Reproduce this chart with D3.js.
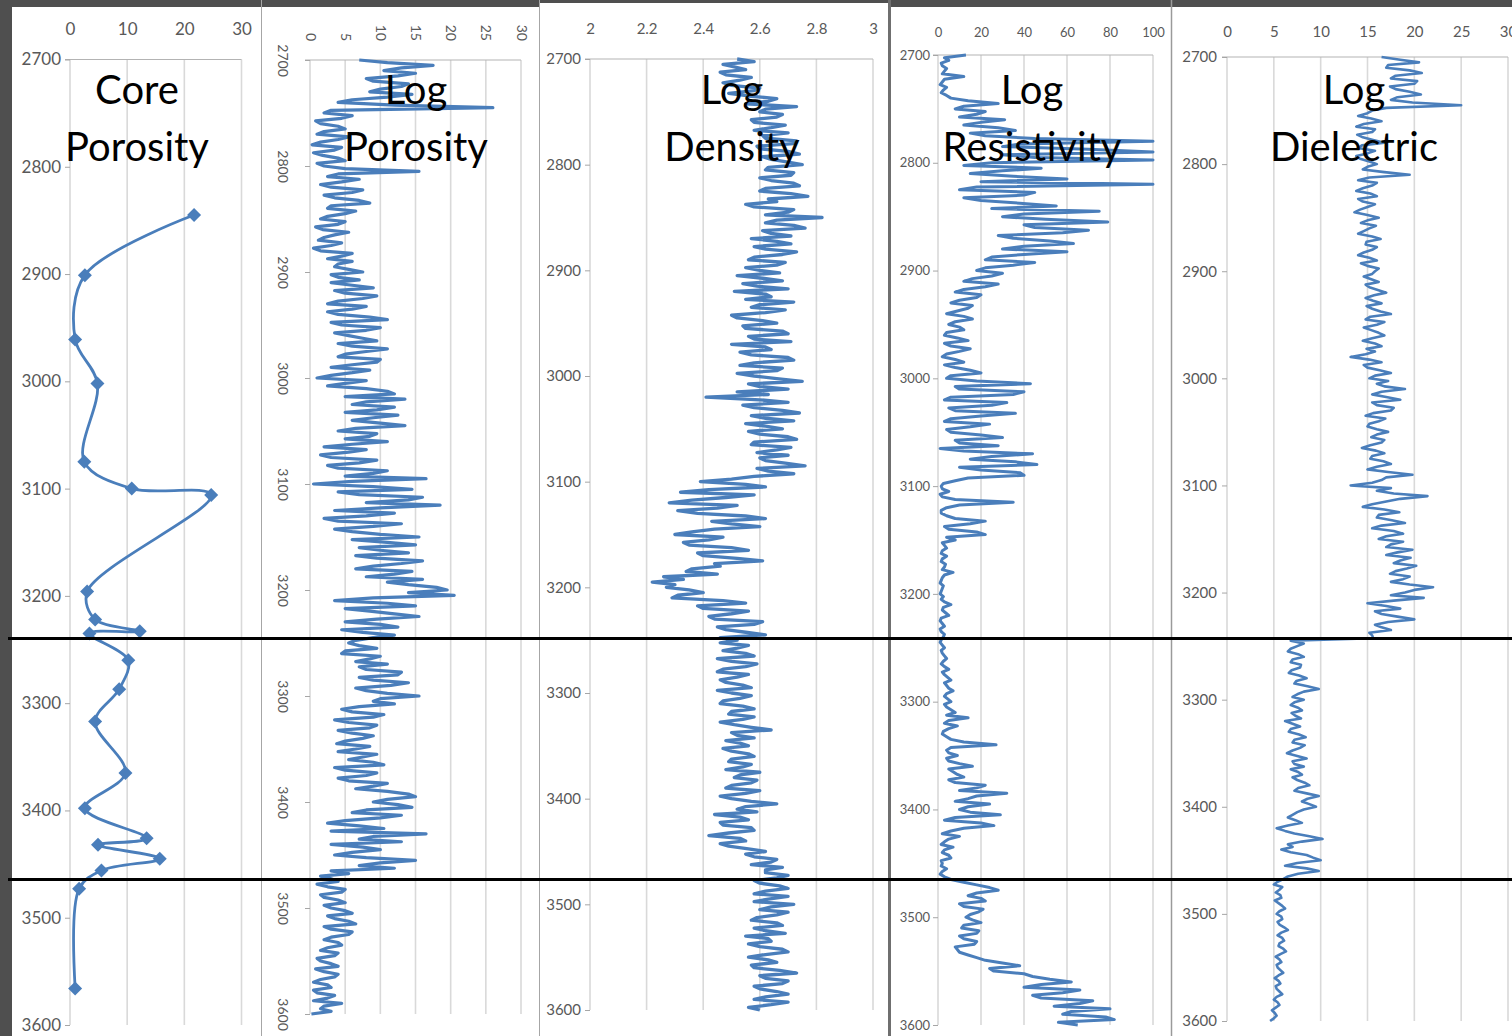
<!DOCTYPE html>
<html><head><meta charset="utf-8">
<script src="https://cdn.jsdelivr.net/npm/d3@7"></script>
<style>
html,body{margin:0;padding:0;background:#4f4f4f;overflow:hidden}
svg{display:block}
text{font-family:Lato,"Open Sans",sans-serif}
</style></head><body>
<svg id="c" width="1512" height="1036"></svg>
<script>
// ---------- DATA ----------
const depthTicks = [2700, 2800, 2900, 3000, 3100, 3200, 3300, 3400, 3500, 3600];
const coreTicks = [0, 10, 20, 30];
const porTicks = [0, 5, 10, 15, 20, 25, 30];
const densTicks = [2, 2.2, 2.4, 2.6, 2.8, 3];
const resTicks = [0, 20, 40, 60, 80, 100];
const dielTicks = [0, 5, 10, 15, 20, 25, 30];

const coreDepth = [2845, 2901, 2961, 3002, 3075, 3100, 3106, 3196, 3222, 3233, 3235, 3260, 3287, 3317, 3365, 3398, 3426, 3432, 3445, 3456, 3473, 3566];
const corePorosity = [21.7, 2.6, 0.9, 4.8, 2.5, 10.8, 24.7, 3.0, 4.4, 12.2, 3.4, 10.2, 8.6, 4.4, 9.7, 2.6, 13.4, 4.9, 15.7, 5.5, 1.6, 0.9];

// log samples: every 5 ft from 2700 to 3600, plus readings at the half-way depths
const logDepth = d3.range(2700, 3601, 5);
const logDepthMid = d3.range(2702.5, 3600, 5);

const logPorosity = [
 7.0, 17.5, 10.5, 12.5, 9, 13, 8.5, 11, 4, 26,
 2, 4.5, 1.5, 5, 1, 4, 0.3, 3.5, 1.8, 5,
 2, 15.5, 2.5, 4.5, 3, 6, 3.5, 8.5, 2.5, 5,
 1.5, 4, 1.8, 3.5, 1.2, 3, 1.5, 4.5, 6, 3.5,
 7.5, 4, 3, 9, 5, 7.5, 2.5, 6, 4, 11,
 4.5, 8, 5.5, 9.5, 6, 8, 4, 9.5, 3, 6,
 1, 5, 8, 12, 13.5, 6, 9.5, 12.5, 6, 13.5,
 4, 8.5, 11, 2, 5.5, 3, 7, 4, 9, 16.5,
 0.5, 14.5, 7, 14, 18.5, 3.5, 8, 4, 9, 6,
 15.5, 11, 7, 14, 9.5, 13, 6.5, 12, 16, 14,
 19.5, 20.5, 3.5, 15, 8.5, 15.5, 5, 12.5, 7.5, 9,
 5.5, 9.5, 4.5, 8.5, 11, 8, 12.5, 9, 11.5, 8,
 15.5, 9, 7, 6, 9, 5.5, 8.5, 6, 7.5, 3.8,
 6.5, 9.5, 5.5, 10.5, 5, 8, 5.5, 9, 11, 15,
 9, 14.5, 6, 10, 2.5, 10.5, 16.5, 7, 3, 10,
 3.5, 15, 7, 3, 1.5, 4, 2.5, 4.5, 2, 5,
 3, 6, 3.5, 6.5, 3, 5.5, 2, 4.5, 1.5, 3.5,
 1.5, 4, 2, 3.5, 0.5, 3, 1, 2.5, 4.5, 1.5,
 0.2
];
const logPorosityMid = [
 11, 13, 15, 8, 14, 10, 14.5, 6, 12, 3,
 6, 0.8, 4, 2, 5.5, 1.5, 4.5, 0.5, 4, 1,
 5, 4, 7, 1.5, 7.5, 2, 7, 3, 6.5, 2.5,
 5, 0.8, 5.5, 2, 4.5, 0.5, 6, 2.5, 4, 5.5,
 3, 7, 6, 3.5, 9.5, 4, 8, 2.5, 8.5, 3,
 10, 3.5, 7.5, 4, 11, 5, 10, 6, 8.5, 3,
 8, 2.5, 11, 5, 8, 12, 5, 9, 10, 6.5,
 9.5, 5, 6, 8, 1.5, 9.5, 2.5, 11, 5, 6,
 9, 4, 16, 8, 10, 12, 2, 13, 3.5, 10,
 6, 15, 10, 6.5, 16, 9, 14.5, 8, 11, 18,
 14, 9, 11, 5, 12, 9.5, 10, 4.5, 12, 6.5,
 7, 5, 10, 6.5, 7, 13, 7, 14, 6.5, 11,
 10, 12, 4.5, 10.5, 3.5, 9.5, 4, 9, 5, 8.5,
 4, 7.5, 9, 3.5, 9.5, 4, 11, 6.5, 14, 11,
 12.5, 8, 13, 5, 7, 3, 9, 13, 7.5, 6,
 8, 10, 12, 5.5, 3, 1, 5, 1.5, 4, 2,
 5, 2.5, 5.5, 2, 6, 3, 4, 2.5, 4, 1,
 3, 0.8, 4, 1.5, 2.5, 0.5, 3.5, 0.5, 2, 3
];

const logDensity = [
 2.52, 2.47, 2.55, 2.48, 2.53, 2.50, 2.58, 2.56, 2.63, 2.73,
 2.60, 2.66, 2.58, 2.64, 2.70, 2.62, 2.72, 2.60, 2.74, 2.64,
 2.75, 2.62, 2.71, 2.64, 2.74, 2.60, 2.77, 2.66, 2.58, 2.70,
 2.82, 2.62, 2.76, 2.64, 2.57, 2.71, 2.62, 2.68, 2.56, 2.66,
 2.60, 2.52, 2.68, 2.59, 2.51, 2.64, 2.72, 2.57, 2.62, 2.52,
 2.66, 2.55, 2.70, 2.58, 2.50, 2.64, 2.57, 2.72, 2.53, 2.66,
 2.58, 2.75, 2.60, 2.52, 2.41, 2.70, 2.58, 2.74, 2.62, 2.55,
 2.68, 2.60, 2.73, 2.57, 2.66, 2.70, 2.62, 2.76, 2.63, 2.58,
 2.39, 2.62, 2.32, 2.48, 2.28, 2.45, 2.38, 2.62, 2.50, 2.44,
 2.30, 2.42, 2.35, 2.56, 2.40, 2.61, 2.46, 2.34, 2.26, 2.22,
 2.27, 2.40, 2.29, 2.55, 2.40, 2.50, 2.44, 2.58, 2.48, 2.62,
 2.52, 2.56, 2.47, 2.58, 2.50, 2.55, 2.45, 2.52, 2.48, 2.57,
 2.50, 2.53, 2.46, 2.58, 2.49, 2.54, 2.51, 2.64, 2.52, 2.48,
 2.56, 2.50, 2.58, 2.49, 2.54, 2.60, 2.51, 2.57, 2.48, 2.55,
 2.50, 2.66, 2.52, 2.44, 2.56, 2.47, 2.58, 2.42, 2.55, 2.49,
 2.62, 2.58, 2.64, 2.68, 2.62, 2.66, 2.60, 2.70, 2.58, 2.63,
 2.72, 2.60, 2.66, 2.57, 2.68, 2.62, 2.55, 2.64, 2.60, 2.70,
 2.56, 2.66, 2.58, 2.73, 2.62, 2.68, 2.60, 2.70, 2.58, 2.64,
 2.60
];
const logDensityMid = [
 2.58, 2.51, 2.46, 2.57, 2.47, 2.60, 2.49, 2.66, 2.55, 2.62,
 2.68, 2.57, 2.69, 2.58, 2.61, 2.73, 2.59, 2.70, 2.61, 2.70,
 2.63, 2.72, 2.60, 2.72, 2.62, 2.71, 2.63, 2.55, 2.72, 2.62,
 2.66, 2.72, 2.61, 2.71, 2.66, 2.58, 2.73, 2.58, 2.69, 2.55,
 2.67, 2.61, 2.54, 2.70, 2.62, 2.55, 2.60, 2.69, 2.50, 2.61,
 2.54, 2.68, 2.56, 2.71, 2.62, 2.53, 2.70, 2.58, 2.68, 2.52,
 2.66, 2.56, 2.70, 2.63, 2.60, 2.54, 2.68, 2.57, 2.72, 2.62,
 2.56, 2.70, 2.58, 2.71, 2.59, 2.60, 2.69, 2.59, 2.72, 2.50,
 2.55, 2.42, 2.58, 2.36, 2.52, 2.31, 2.55, 2.43, 2.60, 2.36,
 2.47, 2.33, 2.50, 2.38, 2.52, 2.44, 2.36, 2.45, 2.33, 2.30,
 2.35, 2.31, 2.47, 2.38, 2.56, 2.42, 2.61, 2.45, 2.55, 2.46,
 2.46, 2.52, 2.55, 2.45, 2.59, 2.47, 2.56, 2.46, 2.54, 2.45,
 2.57, 2.47, 2.54, 2.50, 2.58, 2.46, 2.57, 2.50, 2.58, 2.53,
 2.47, 2.56, 2.50, 2.57, 2.48, 2.53, 2.59, 2.50, 2.60, 2.46,
 2.57, 2.55, 2.59, 2.53, 2.46, 2.57, 2.49, 2.53, 2.46, 2.56,
 2.55, 2.66, 2.57, 2.62, 2.70, 2.58, 2.67, 2.62, 2.70, 2.58,
 2.64, 2.70, 2.59, 2.66, 2.58, 2.69, 2.63, 2.56, 2.68, 2.62,
 2.63, 2.57, 2.67, 2.60, 2.70, 2.58, 2.66, 2.62, 2.70, 2.56
];

const logResistivity = [
 13, 5, 2, 3, 12, 2, 4, 1.5, 6, 28,
 8, 18, 31, 12, 36, 22, 100, 30, 100, 45,
 25, 48, 15, 60, 100, 10, 40, 20, 55, 75,
 30, 79, 45, 58, 35, 63, 30, 40, 22, 35,
 18, 25, 12, 22, 8, 18, 6, 14, 4, 16,
 5, 12, 3, 14, 6, 10, 2, 12, 8, 20,
 4, 43, 10, 35, 3, 25, 8, 20, 3, 15,
 6, 30, 10, 1, 44, 15, 46, 20, 40, 8,
 1.5, 5, 2, 35, 4, 1.5, 8, 15, 5, 22,
 8, 3, 2, 4, 1.5, 3, 7, 2, 1, 2,
 1, 1.5, 6, 2, 5, 1, 3, 1.5, 2.5, 1,
 3, 2, 4, 1.5, 5, 3, 6, 4, 7, 3,
 6, 4, 8, 14, 3, 5, 2, 6, 27, 4,
 9, 5, 16, 7, 12, 8, 18, 32, 14, 24,
 10, 29, 3, 26, 6, 10, 3, 7, 2, 6,
 2, 4, 1, 6, 18, 28, 14, 22, 12, 19,
 13, 20, 11, 18, 12, 17, 9, 14, 22, 38,
 26, 44, 62, 40, 58, 48, 66, 80, 58, 82,
 65
];
const logResistivityMid = [
 3, 1.5, 4, 2, 3, 1, 2.5, 4, 14, 12,
 22, 10, 20, 28, 15, 45, 38, 70, 30, 100,
 12, 30, 35, 20, 18, 45, 12, 38, 25, 40,
 50, 40, 70, 28, 52, 40, 60, 25, 45, 22,
 30, 16, 28, 12, 20, 10, 16, 9, 12, 8,
 10, 4, 9, 3, 15, 4, 8, 3, 15, 6,
 18, 8, 40, 6, 32, 5, 36, 6, 24, 4,
 20, 8, 28, 12, 25, 36, 10, 38, 14, 2.5,
 2, 1, 8, 10, 1.5, 4, 22, 3, 18, 4,
 2, 4, 1.5, 2, 3.5, 2, 3, 1.5, 2.5, 1.5,
 2.5, 3, 2.5, 3.5, 1.5, 2, 1, 3, 1.5, 2,
 1.5, 3, 2.5, 3, 2, 4.5, 3, 5, 4, 4.5,
 3, 6, 4, 5, 9, 2.5, 4, 12, 6, 5,
 4, 10, 5, 9, 5, 22, 10, 18, 8, 14,
 15, 8, 20, 12, 2, 5, 1.5, 3, 5, 1.5,
 1.5, 2, 3, 12, 24, 18, 20, 10, 21, 15,
 16, 12, 19, 10, 18, 8, 10, 18, 30, 24,
 40, 52, 48, 66, 44, 72, 54, 62, 78, 56
];

const logDielectric = [
 16.5, 20.5, 17, 20.8, 17.5, 20, 18, 20.7, 17.5, 25,
 15.5, 14, 16.5, 13.8, 15.5, 14.5, 16.8, 14, 15, 14.2,
 16, 14.5, 19.5, 14, 15.5, 13.8, 16, 14.5, 15, 13.6,
 16.2, 14.3, 15.2, 14, 16.4, 14.8, 15.5, 14, 16, 15,
 15.8, 14.6, 16.2, 15.2, 17, 14.8, 16.5, 15.5, 17.5, 14.8,
 16, 15.4, 16.8, 14.5, 16.5, 15.8, 13.2, 16.5, 15, 17.5,
 15.2, 16, 19, 15.5, 18.5, 16, 17.5, 14.8, 16.2, 15,
 17.2, 15.4, 16.5, 14.4, 16.8, 15.3, 17.5, 15, 19.8, 16.5,
 13.2, 16, 21.4, 17, 14.5, 18.4, 16, 19, 15.5, 18.8,
 16.2, 17.5, 19.8, 17, 18.5, 20.2, 18, 19.5, 17.5, 22,
 19, 21, 15, 18.5, 16.5, 20, 15.8, 17.5, 15.5, 6.8,
 7.5, 6.5, 8.2, 6.8, 7.8, 6.6, 8.5, 7.2, 9.8, 7.5,
 8.2, 6.8, 8, 7.3, 6.2, 7.8, 6.6, 8.4, 7, 7.8,
 6.4, 8.5, 7.2, 6.8, 8, 7.5, 8.8, 7.2, 9.8, 8,
 9.5, 7.5, 6.5, 8, 5.3, 7.2, 10.2, 6.5, 5.8, 8.5,
 10, 6.2, 9.8, 6.5, 5.4, 5.9, 5.2, 5.8, 5.5, 6.2,
 5.3, 5.9, 5.6, 6.5, 5.4, 6.1, 5.5, 6.3, 5.2, 5.8,
 5.4, 6, 5.1, 5.7, 5.3, 5.9, 5.0, 5.6, 4.8, 5.3,
 4.6
];
const logDielectricMid = [
 18.5, 17.2, 19.5, 18, 20.3, 17.4, 19.5, 18.2, 19.8, 17,
 15, 15.4, 14.6, 15.8, 13.9, 15.6, 14.4, 15.8, 13.8, 15.2,
 15, 16.8, 15.2, 16, 14.5, 15.3, 14, 15.8, 14.2, 15,
 15, 15.9, 14.6, 15.5, 14.9, 16, 14.6, 15.2, 14.3, 16.2,
 15.5, 15.4, 14.8, 16.1, 15.7, 15.6, 14.9, 16.4, 15.3, 16.8,
 14.6, 16.2, 15.5, 15.8, 14.9, 14.8, 15.2, 14.6, 16.3, 15.8,
 17.2, 16.8, 16.5, 17, 15.5, 17.8, 15.6, 16.9, 15.2, 16,
 16, 16.8, 15.3, 15.9, 15.5, 16.7, 16, 17.2, 17, 15.5,
 17.5, 17.8, 18.5, 15.5, 16.8, 16.2, 17.6, 16.5, 17.8, 17,
 18.8, 17, 18.2, 19.6, 17.8, 19.2, 17.4, 18.8, 19.5, 20,
 17.5, 17.8, 17, 15.8, 18.2, 17.2, 16.5, 15.2, 15.6, 8.2,
 6.8, 7.6, 7, 7.9, 6.9, 7.7, 7.4, 8.6, 8.2, 7,
 7.2, 7.6, 6.9, 7.9, 7, 6.8, 7.7, 7.2, 8.3, 7,
 7.5, 7, 8.2, 7.6, 7, 8.3, 7.6, 8.5, 8.6, 8.8,
 8.2, 7, 7.3, 6.5, 6.2, 8.8, 8, 7, 6.8, 9.2,
 7.5, 8.5, 7.6, 6, 5, 5.6, 5.7, 5.1, 5.9, 5.6,
 5.8, 5.4, 6.1, 5.8, 5.9, 5.6, 6, 5.7, 5.6, 5.3,
 5.7, 5.5, 5.5, 5.2, 5.6, 5.3, 5.4, 5.2, 5.1, 5.0
];

// zone boundaries (depth on the core porosity track)
const zoneBoundaries = [3240, 3465];

// ---------- LAYOUT ----------
const BLUE = "#4a7ebb", LABEL = "#595959";
const svg = d3.select("#c");

const panelBoxes = [
  {x0: 12, x1: 261, top: 7},
  {x0: 262, x1: 539, top: 7},
  {x0: 540, x1: 889, top: 3},
  {x0: 891, x1: 1171, top: 7},
  {x0: 1172, x1: 1512, top: 7}
];
svg.selectAll("rect.panel").data(panelBoxes).join("rect")
  .attr("x", d => d.x0).attr("y", d => d.top)
  .attr("width", d => d.x1 - d.x0).attr("height", d => 1036 - d.top)
  .attr("fill", "#fff");
[[261.5, "#a6a6a6", 1], [539.5, "#a6a6a6", 1], [889.5, "#6f6f6f", 3], [1171.5, "#9a9a9a", 1.5]].forEach(s => {
  svg.append("line").attr("x1", s[0]).attr("x2", s[0]).attr("y1", 0).attr("y2", 1036)
    .attr("stroke", s[1]).attr("stroke-width", s[2]);
});

const panels = [
  {title: ["Core", "Porosity"], titleX: 137, domain: [0, 30], range: [70, 241.5], yRange: [59.5, 1025],
   ticks: coreTicks, font: 17, labelBase: 35, yPad: 4, fmt: d3.format("d"), kind: "core"},
  {title: ["Log", "Porosity"], titleX: 416, domain: [0, 30], range: [310, 521], yRange: [60, 1014],
   ticks: porTicks, font: 14, rotated: true, topEnd: 41, depthX: 283, fmt: d3.format("d"),
   values: logPorosity, mids: logPorosityMid, width: 3.2},
  {title: ["Log", "Density"], titleX: 732, domain: [2, 3], range: [590, 873], yRange: [59, 1010],
   ticks: densTicks, font: 15, labelBase: 34, yPad: 4, fmt: d => String(+d.toFixed(1)),
   values: logDensity, mids: logDensityMid, width: 3.3},
  {title: ["Log", "Resistivity"], titleX: 1032, domain: [0, 100], range: [938, 1153], yRange: [55, 1025],
   ticks: resTicks, font: 13, labelBase: 36.5, yPad: 3, fmt: d3.format("d"),
   values: logResistivity, mids: logResistivityMid, width: 3},
  {title: ["Log", "Dielectric"], titleX: 1354, domain: [0, 30], range: [1227, 1508], yRange: [57, 1021],
   ticks: dielTicks, font: 15, labelBase: 37, yPad: 5, fmt: d3.format("d"),
   values: logDielectric, mids: logDielectricMid, width: 2.6}
];

let coreY = null;
panels.forEach(p => {
  const x = d3.scaleLinear().domain(p.domain).range(p.range);
  const y = d3.scaleLinear().domain([2700, 3600]).range(p.yRange);
  if (p.kind === "core") coreY = y;
  const g = svg.append("g");

  g.selectAll("line.grid").data(p.ticks).join("line")
    .attr("x1", d => x(d)).attr("x2", d => x(d))
    .attr("y1", y(2700)).attr("y2", y(3600))
    .attr("stroke", "#d9d9d9").attr("stroke-width", 1.6);
  g.append("line").attr("x1", x.range()[0] - 5).attr("x2", x.range()[1])
    .attr("y1", y(2700)).attr("y2", y(2700))
    .attr("stroke", "#b3b3b3").attr("stroke-width", 1.2);

  const ya = g.append("g").attr("transform", `translate(${x.range()[0]},0)`)
    .call(d3.axisLeft(y).tickValues(depthTicks).tickSize(5).tickPadding(p.yPad || 4).tickFormat(d3.format("d")));
  ya.select(".domain").remove();
  ya.selectAll(".tick line").attr("stroke", "#a6a6a6");
  ya.selectAll("text").attr("fill", LABEL).attr("font-size", p.font).attr("font-family", "Lato");

  const xa = g.append("g").attr("transform", `translate(0,${p.rotated ? p.topEnd : p.labelBase})`)
    .call(d3.axisTop(x).tickValues(p.ticks).tickSize(0).tickPadding(0).tickFormat(p.fmt));
  xa.select(".domain").remove();
  xa.selectAll("text").attr("fill", LABEL).attr("font-size", p.font).attr("font-family", "Lato");

  if (p.rotated) {
    xa.selectAll("text").attr("x", 0).attr("y", 0).attr("dy", "0.35em")
      .attr("text-anchor", "end").attr("transform", "rotate(90)");
    ya.selectAll("text").attr("x", 0).attr("y", 0).attr("dy", "0.35em")
      .attr("text-anchor", "middle")
      .attr("transform", `translate(${p.depthX - x.range()[0]},0) rotate(90)`);
  }

  if (p.kind === "core") {
    const pts = coreDepth.map((d, i) => ({d, v: corePorosity[i]}));
    g.append("path").datum(pts)
      .attr("d", d3.line().x(d => x(d.v)).y(d => y(d.d)).curve(d3.curveCatmullRom.alpha(0.5)))
      .attr("fill", "none").attr("stroke", BLUE).attr("stroke-width", 2.8);
    g.selectAll("path.mk").data(pts).join("path")
      .attr("d", "M0,-7L7,0L0,7L-7,0Z")
      .attr("transform", d => `translate(${x(d.v)},${y(d.d)})`)
      .attr("fill", BLUE);
  } else {
    const pts = logDepth.map((d, i) => ({d, v: p.values[i]}))
      .concat(logDepthMid.map((d, i) => ({d, v: p.mids[i]})))
      .sort((a, b) => a.d - b.d)
      .map(o => ({d: o.d, v: Math.min(o.v, p.domain[1])}));
    g.append("path").datum(pts)
      .attr("d", d3.line().x(d => x(d.v)).y(d => y(d.d)))
      .attr("fill", "none").attr("stroke", BLUE).attr("stroke-width", p.width)
      .attr("stroke-linejoin", "round");
  }

  g.selectAll("text.title").data(p.title).join("text")
    .attr("x", p.titleX).attr("y", (d, i) => i === 0 ? 104 : 161)
    .attr("text-anchor", "middle").attr("font-size", 40).attr("fill", "#000")
    .attr("font-family", "Lato")
    .text(d => d);
});

svg.selectAll("line.zone").data(zoneBoundaries).join("line")
  .attr("x1", 8).attr("x2", 1512)
  .attr("y1", d => Math.round(coreY(d)) - 0.5).attr("y2", d => Math.round(coreY(d)) - 0.5)
  .attr("stroke", "#000").attr("stroke-width", 3);
</script>
</body></html>
